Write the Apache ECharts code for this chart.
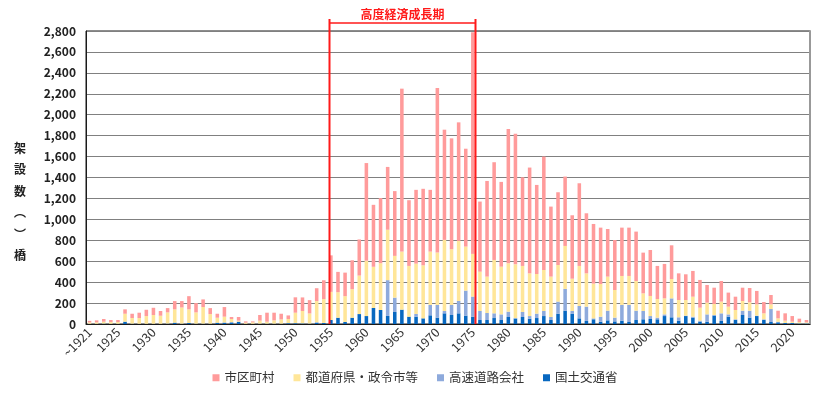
<!DOCTYPE html>
<html><head><meta charset="utf-8">
<script src="https://cdn.jsdelivr.net/npm/echarts@6/dist/echarts.min.js"></script>
<style>html,body{margin:0;padding:0;background:#fff}#c{width:830px;height:393px}</style>
</head><body><div id="c"></div>
<script>
const years = [];
for (let y = 1921; y <= 2022; y++) years.push(y);
const categories = years.map((y, i) => i === 0 ? '~1921' : String(y));

// 国土交通省 (dark blue)
const mlit = [2,2,4,2,2,22,3,2,2,2, 2,4,13,3,10,3,3,3,12,12, 15,22,2,2,3,3,3,3,8,8,
  6,4,12,10,38,60,19,60,95,76, 153,134,77,115,137,70,70,54,83,61, 102,86,102,80,70,38,38,57,38,67,
  52,67,51,57,76,38,99,127,99,54, 29,45,22,35,25,32,19,38,45,48, 45,76,64,32,76,61,22,22,80,29,
  70,38,86,61,76,38,19,16,10,10, 6,6];
// 高速道路会社 (light blue)
const expressway = [0,0,0,0,0,0,0,0,0,0, 0,0,0,0,0,0,0,0,0,3, 3,0,0,0,0,0,0,0,0,0,
  0,0,5,0,0,0,0,0,0,0, 0,0,342,137,0,0,26,0,99,121, 22,96,118,239,192,86,67,45,54,51,
  5,48,25,42,48,29,115,208,25,118, 137,9,48,92,36,150,163,89,79,28, 16,16,181,32,4,9,10,70,6,73,
  22,7,41,66,4,7,124,6,0,0, 0,0];
// 都道府県・政令市等 (yellow)
const prefecture = [13,14,18,17,17,76,54,55,74,84, 77,107,127,155,130,108,159,92,48,55, 30,10,11,14,29,19,32,41,40,100,
  118,97,202,228,269,244,247,273,368,529, 394,447,482,399,555,485,481,507,510,501, 680,533,574,421,408,376,348,510,456,462,
  513,440,408,379,392,386,350,411,309,383, 318,332,312,326,264,277,277,284,169,192, 178,153,185,165,149,191,124,112,105,112,
  74,89,93,80,108,57,45,32,22,12, 13,10];
// 市区町村 (pink)
const municipal = [15,19,26,19,19,42,41,51,60,69, 45,41,79,61,126,89,73,57,38,92, 19,35,12,9,54,86,73,54,34,147,
  130,127,123,180,349,194,225,276,345,933, 592,622,600,619,1557,628,705,731,590,1572, 1053,1059,1133,935,2118,670,914,934,810,1284,
  1247,847,1011,851,1084,669,695,663,606,790, 574,570,539,455,478,462,462,472,389,439, 316,329,322,255,246,246,265,169,156,197,
  134,127,127,137,128,108,89,73,70,54, 32,22];

const yTicks = {min: 0, max: 2800, interval: 200};
const periodStart = '1955', periodEnd = '1975';
const FONT = '"Noto Sans CJK JP", "Noto Sans", sans-serif';

const chart = echarts.init(document.getElementById('c'), null, {renderer: 'canvas'});
const barW = '50%';
function mk(name, data, color) {
  return {name, type: 'bar', stack: 'total', data, barWidth: barW, itemStyle: {color}, emphasis: {disabled: true}, animation: false};
}
chart.setOption({
  animation: false,
  textStyle: {fontFamily: FONT},
  grid: {left: 86, right: 20, top: 31, bottom: 69, show: true, borderColor: '#1a1a1a', borderWidth: 1, containLabel: false},
  legend: {
    bottom: 4, left: 'center', icon: 'rect', itemWidth: 7, itemHeight: 7, itemGap: 19,
    textStyle: {fontSize: 12.5, color: '#333', fontFamily: FONT},
    data: ['市区町村', '都道府県・政令市等', '高速道路会社', '国土交通省']
  },
  xAxis: {
    type: 'category', data: categories,
    axisLine: {show: true, lineStyle: {color: '#1a1a1a', width: 1}},
    axisTick: {show: false},
    axisLabel: {
      rotate: 45, fontSize: 12.5, color: '#333', margin: 6, fontFamily: FONT,
      interval: (i, v) => i === 0 || (years[i] % 5 === 0)
    }
  },
  yAxis: [{
    type: 'value', min: yTicks.min, max: yTicks.max, interval: yTicks.interval,
    axisLine: {show: true, lineStyle: {color: '#1a1a1a'}},
    axisTick: {show: false},
    splitLine: {lineStyle: {color: '#808080', width: 1}},
    axisLabel: {fontSize: 12, color: '#222', fontWeight: 'bold', margin: 10, fontFamily: FONT,
      formatter: v => v.toLocaleString('en-US')}
  }, {
    type: 'value', min: yTicks.min, max: yTicks.max, interval: yTicks.interval, position: 'right',
    axisLine: {show: true, lineStyle: {color: '#999', width: 2}},
    axisTick: {show: false}, axisLabel: {show: false}, splitLine: {show: false}
  }],
  series: [
    mk('国土交通省', mlit, '#0868c0'),
    mk('高速道路会社', expressway, '#8eaadc'),
    mk('都道府県・政令市等', prefecture, '#ffe699'),
    mk('市区町村', municipal, '#ff9b9b')
  ]
});

// annotation computed from axis scale
const cx1 = chart.convertToPixel({xAxisIndex: 0}, categories[years.indexOf(+periodStart)]);
const cx2 = chart.convertToPixel({xAxisIndex: 0}, categories[years.indexOf(+periodEnd)]);
const band = chart.convertToPixel({xAxisIndex: 0}, categories[1]) - chart.convertToPixel({xAxisIndex: 0}, categories[0]);
const xL = Math.round(cx1 - band * 0.25) + 0.5, xR = Math.round(cx2 + band * 0.25) + 0.5;
const yBottom = chart.convertToPixel({yAxisIndex: 0}, 0);
const red = '#ff1a1a';
chart.setOption({
  graphic: [
    {type: 'line', shape: {x1: xL, y1: 19, x2: xL, y2: yBottom}, style: {stroke: red, lineWidth: 2}, z: 100},
    {type: 'line', shape: {x1: xR, y1: 19, x2: xR, y2: yBottom}, style: {stroke: red, lineWidth: 2}, z: 100},
    {type: 'line', shape: {x1: xL, y1: 23, x2: xR, y2: 23}, style: {stroke: red, lineWidth: 1.5}, z: 100},
    {type: 'text', x: (xL + xR) / 2, y: 14, style: {text: '高度経済成長期', fill: red, fontSize: 12, fontWeight: 'bold', fontFamily: FONT, align: 'center', verticalAlign: 'middle'}, z: 100},
    {type: 'text', x: 20, y: 202, style: {text: '架\n設\n数\n︵\n︶\n橋', fill: '#222', fontSize: 12, fontWeight: 'bold', lineHeight: 21.5, fontFamily: FONT, align: 'center', verticalAlign: 'middle'}, z: 100}
  ]
});
</script></body></html>
